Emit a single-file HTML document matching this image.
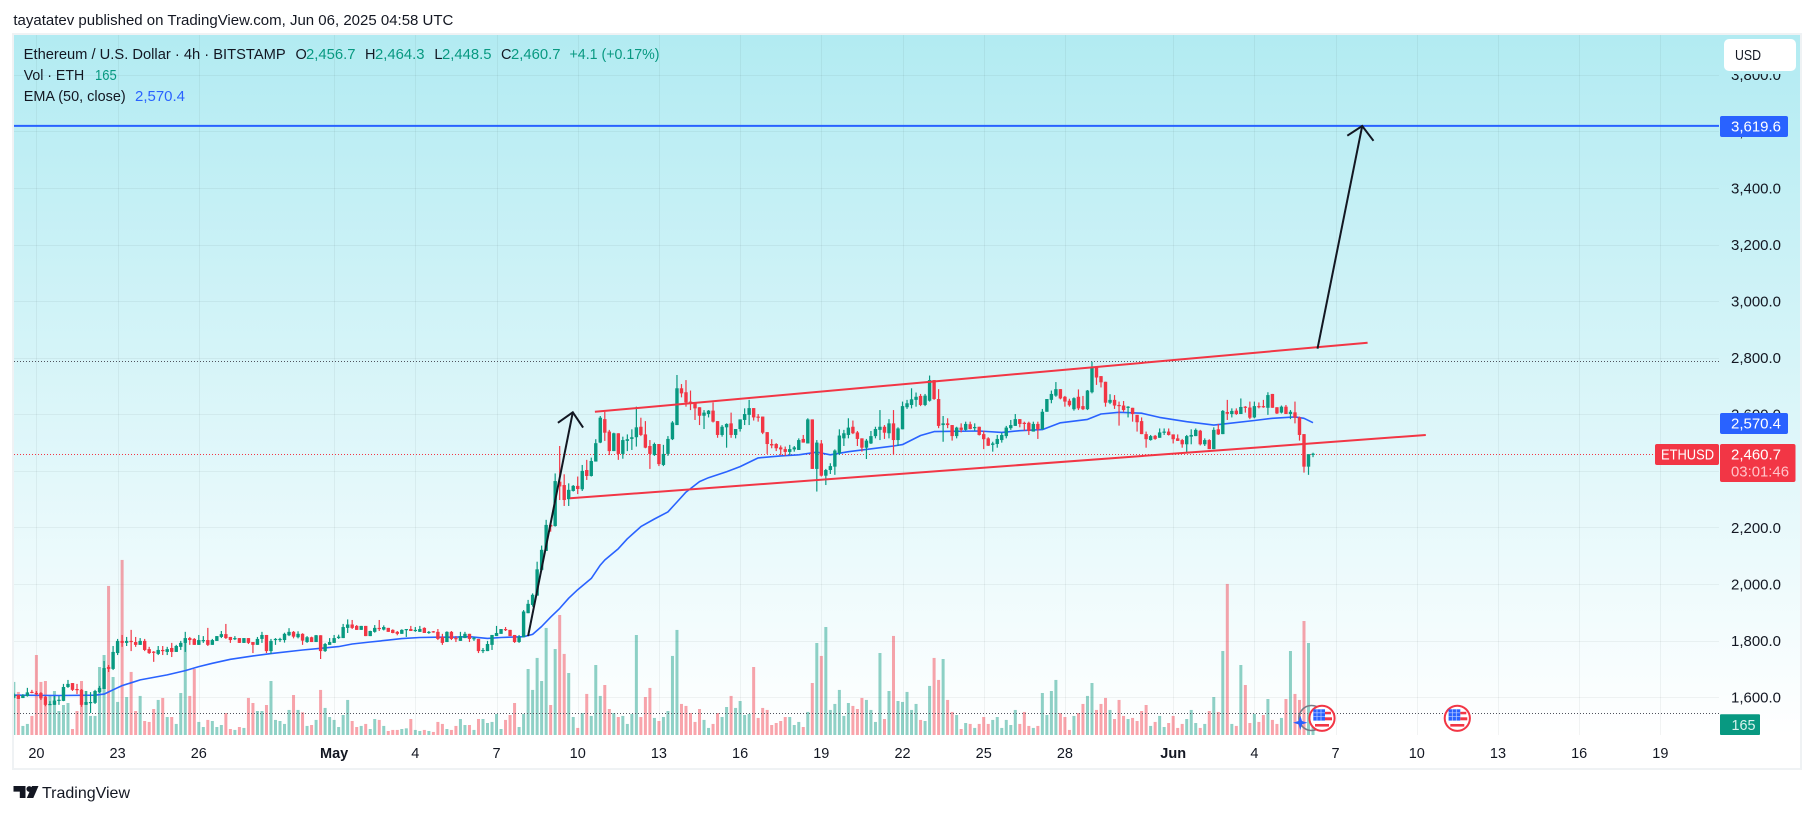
<!DOCTYPE html>
<html lang="en">
<head>
<meta charset="utf-8">
<title>ETHUSD 4h chart</title>
<style>
html,body{margin:0;padding:0;background:#fff;width:1814px;height:814px;overflow:hidden}
svg{display:block;font-family:"Liberation Sans",Arial,sans-serif}
text{fill:#131722}
</style>
</head>
<body>
<svg id="chart" xmlns="http://www.w3.org/2000/svg" width="1814" height="814" viewBox="0 0 1814 814">
  <defs>
    <linearGradient id="bg" x1="0" y1="0" x2="0" y2="1">
      <stop offset="0" stop-color="#b2ebf2"/>
      <stop offset="1" stop-color="#ffffff"/>
    </linearGradient>
    <clipPath id="pane"><rect x="14" y="35" width="1705" height="700"/></clipPath>
  </defs>

  <text x="13.4" y="25" font-size="14.5" textLength="440" lengthAdjust="spacingAndGlyphs">tayatatev published on TradingView.com, Jun 06, 2025 04:58 UTC</text>

  <rect x="13" y="34" width="1788" height="735" fill="#fff" stroke="#eff2f4" stroke-width="2"/>
  <rect x="14" y="35" width="1786" height="700" fill="url(#bg)"/>

  <g id="grid"></g>
  <g id="volumes" clip-path="url(#pane)"></g>
  <g id="levels" clip-path="url(#pane)"></g>
  <g id="ema" clip-path="url(#pane)"></g>
  <g id="candles" clip-path="url(#pane)"></g>
  <g id="drawings" clip-path="url(#pane)"></g>

  <g>
    <circle cx="1311.5" cy="718" r="12.5" fill="none" stroke="#787b86" stroke-width="1.6"/>
    <path d="M1300.3 715.5 L1302 721 L1307.5 722.7 L1302 724.4 L1300.3 730 L1298.6 724.4 L1293 722.7 L1298.6 721 Z" fill="#2962ff"/>
    <g transform="translate(1322 718.3)">
      <circle r="12.6" fill="#fff" stroke="#f23645" stroke-width="2"/>
      <rect x="-8.7" y="-9" width="11.7" height="11.3" fill="#2962ff"/>
      <path d="M-8.7 -5.5H3M-8.7 -2H3M-5 -9V2.3M-1 -9V2.3" stroke="#bcd0ff" stroke-width=".7" fill="none"/>
      <rect x="3" y="-6.5" width="6" height="2.5" fill="#f23645"/>
      <rect x="3" y="-1" width="7" height="3" fill="#f23645"/>
      <rect x="-7" y="5.7" width="14" height="2.6" fill="#f23645"/>
    </g>
    <g transform="translate(1457.3 718.3)">
      <circle r="12.6" fill="#fff" stroke="#f23645" stroke-width="2"/>
      <rect x="-8.7" y="-9" width="11.7" height="11.3" fill="#2962ff"/>
      <path d="M-8.7 -5.5H3M-8.7 -2H3M-5 -9V2.3M-1 -9V2.3" stroke="#bcd0ff" stroke-width=".7" fill="none"/>
      <rect x="3" y="-6.5" width="6" height="2.5" fill="#f23645"/>
      <rect x="3" y="-1" width="7" height="3" fill="#f23645"/>
      <rect x="-7" y="5.7" width="14" height="2.6" fill="#f23645"/>
    </g>
  </g>

  <g id="priceLabels"></g>
  <g id="timeLabels"></g>

  <g font-size="14.5">
    <text x="23.7" y="59" textLength="262" lengthAdjust="spacingAndGlyphs">Ethereum / U.S. Dollar · 4h · BITSTAMP</text>
    <text x="295.5" y="59">O</text>
    <text x="306" y="59" style="fill:#089981" textLength="49.5" lengthAdjust="spacingAndGlyphs">2,456.7</text>
    <text x="365" y="59">H</text>
    <text x="375" y="59" style="fill:#089981" textLength="49.5" lengthAdjust="spacingAndGlyphs">2,464.3</text>
    <text x="434.4" y="59">L</text>
    <text x="442" y="59" style="fill:#089981" textLength="49.5" lengthAdjust="spacingAndGlyphs">2,448.5</text>
    <text x="501" y="59">C</text>
    <text x="511" y="59" style="fill:#089981" textLength="49.5" lengthAdjust="spacingAndGlyphs">2,460.7</text>
    <text x="569.5" y="59" style="fill:#089981" textLength="90" lengthAdjust="spacingAndGlyphs">+4.1 (+0.17%)</text>
    <text x="23.7" y="80" textLength="60.5" lengthAdjust="spacingAndGlyphs">Vol · ETH</text>
    <text x="95" y="80" font-size="15" style="fill:#089981" textLength="21.7" lengthAdjust="spacingAndGlyphs">165</text>
    <text x="23.7" y="101" textLength="102" lengthAdjust="spacingAndGlyphs">EMA (50, close)</text>
    <text x="135" y="101" style="fill:#2962ff" textLength="50" lengthAdjust="spacingAndGlyphs">2,570.4</text>
  </g>

  <g>
    <rect x="1724" y="70" width="72" height="4" fill="#b6ecf3"/>
    <rect x="1724" y="39" width="72" height="32" rx="5" fill="#fff"/>
    <text x="1735" y="60" font-size="15" textLength="26" lengthAdjust="spacingAndGlyphs">USD</text>
  </g>

  <g font-size="15">
    <g>
      <rect x="1720" y="116" width="68" height="21" rx="2" fill="#2962ff"/>
      <text x="1731" y="131.5" style="fill:#fff" textLength="50" lengthAdjust="spacingAndGlyphs">3,619.6</text>
    </g>
    <g>
      <rect x="1720" y="413" width="68" height="21" rx="2" fill="#2962ff"/>
      <text x="1731" y="428.5" style="fill:#fff" textLength="50" lengthAdjust="spacingAndGlyphs">2,570.4</text>
    </g>
    <g>
      <rect x="1655" y="444" width="64" height="21" rx="2" fill="#f23645"/>
      <text x="1661" y="459.5" style="fill:#fff" textLength="53" lengthAdjust="spacingAndGlyphs">ETHUSD</text>
    </g>
    <g>
      <rect x="1720" y="444" width="75.5" height="38" rx="2" fill="#f23645"/>
      <text x="1731" y="459.5" style="fill:#fff" textLength="50" lengthAdjust="spacingAndGlyphs">2,460.7</text>
      <text x="1731" y="476.5" style="fill:#ffc4c9" textLength="58" lengthAdjust="spacingAndGlyphs">03:01:46</text>
    </g>
    <g>
      <rect x="1720" y="714.3" width="40" height="20.7" rx="1" fill="#089981"/>
      <text x="1731.5" y="730" style="fill:#d8f3ee" textLength="24" lengthAdjust="spacingAndGlyphs">165</text>
    </g>
  </g>

  <g>
    <path d="M13.5 786H25.5V798H19.8V791.6H13.5Z" fill="#131722"/>
    <circle cx="29.3" cy="789" r="2.9" fill="#131722"/>
    <path d="M32 786H38.5L33.3 798H26.8Z" fill="#131722"/>
    <text x="42" y="798" font-size="16" textLength="88" lengthAdjust="spacingAndGlyphs">TradingView</text>
  </g>
</svg>

<script>
const opens = [
1598,1608,1597,1604,1619,1615,1615,1601,1573,1573,
1588,1587,1636,1650,1629,1626,1573,1580,1580,1618,
1629,1707,1700,1756,1799,1792,1799,1795,1785,1799,
1770,1761,1753,1767,1760,1774,1760,1778,1792,1809,
1806,1785,1799,1802,1785,1799,1813,1823,1813,1806,
1809,1792,1809,1795,1785,1806,1820,1763,1802,1802,
1802,1819,1831,1812,1824,1795,1812,1795,1819,1763,
1785,1792,1809,1809,1845,1857,1852,1838,1852,1816,
1831,1845,1839,1845,1838,1831,1824,1838,1841,1834,
1831,1845,1827,1833,1831,1813,1795,1831,1809,1799,
1809,1824,1806,1806,1763,1763,1785,1816,1824,1841,
1838,1820,1795,1812,1897,1926,1959,2050,2117,2209,
2205,2362,2350,2300,2329,2347,2335,2403,2382,2433,
2500,2583,2539,2470,2533,2460,2506,2513,2519,2556,
2529,2488,2456,2495,2421,2460,2512,2562,2692,2678,
2645,2639,2625,2595,2601,2613,2576,2527,2554,2568,
2527,2548,2580,2598,2622,2592,2592,2537,2495,2495,
2483,2477,2467,2476,2474,2513,2497,2582,2407,2497,
2383,2403,2415,2462,2515,2527,2556,2536,2515,2482,
2497,2523,2545,2556,2533,2568,2509,2547,2625,2633,
2651,2665,2633,2648,2721,2654,2562,2568,2562,2523,
2553,2545,2565,2552,2556,2530,2515,2492,2495,2509,
2523,2551,2559,2583,2570,2570,2539,2566,2547,2609,
2651,2666,2689,2662,2648,2618,2662,2629,2618,2678,
2766,2735,2715,2641,2651,2633,2631,2623,2623,2598,
2576,2530,2509,2524,2517,2535,2539,2529,2515,2509,
2494,2521,2523,2542,2494,2509,2477,2547,2530,2608,
2601,2613,2601,2627,2624,2589,2629,2629,2623,2672,
2625,2606,2627,2601,2607,2589,2530,2415,2456.7];

const highs = [
1616,1608,1611,1633,1626,1622,1618,1604,1586,1604,
1604,1647,1661,1650,1647,1629,1622,1618,1626,1640,
1728,1714,1781,1806,1820,1813,1838,1813,1809,1806,
1778,1763,1781,1781,1778,1792,1785,1799,1831,1813,
1809,1820,1816,1845,1806,1816,1834,1859,1813,1816,
1809,1809,1809,1795,1813,1831,1820,1806,1809,1810,
1828,1844,1834,1833,1826,1816,1814,1820,1819,1792,
1809,1820,1821,1859,1875,1873,1855,1852,1852,1835,
1855,1873,1854,1845,1840,1834,1840,1841,1852,1848,
1852,1847,1834,1834,1841,1824,1833,1834,1816,1831,
1831,1824,1813,1806,1774,1799,1820,1852,1841,1848,
1838,1820,1820,1908,1944,1967,2079,2136,2227,2221,
2391,2488,2388,2356,2350,2380,2421,2439,2447,2512,
2594,2609,2545,2535,2533,2521,2529,2547,2627,2588,
2576,2509,2500,2495,2492,2523,2576,2739,2707,2721,
2684,2639,2625,2615,2615,2642,2576,2562,2568,2606,
2548,2582,2621,2651,2622,2601,2592,2537,2512,2498,
2490,2486,2492,2488,2515,2527,2586,2582,2509,2509,
2407,2427,2476,2547,2545,2586,2578,2541,2515,2513,
2541,2556,2615,2562,2583,2615,2554,2645,2651,2692,
2677,2672,2672,2737,2721,2689,2594,2586,2562,2556,
2568,2574,2574,2568,2556,2542,2519,2503,2527,2535,
2559,2580,2601,2583,2574,2574,2574,2574,2619,2654,
2684,2714,2689,2665,2655,2660,2688,2665,2686,2786,
2766,2735,2715,2671,2668,2645,2647,2629,2623,2598,
2589,2539,2527,2527,2550,2550,2550,2529,2529,2513,
2527,2547,2550,2545,2515,2512,2554,2566,2615,2651,
2621,2621,2656,2629,2645,2645,2642,2651,2678,2672,
2625,2631,2633,2615,2645,2592,2530,2459,2464.3];

const lows = [
1596,1594,1597,1602,1614,1607,1590,1568,1573,1573,
1573,1586,1633,1622,1611,1566,1573,1544,1576,1615,
1629,1689,1696,1749,1778,1781,1763,1778,1785,1763,
1753,1725,1749,1749,1749,1742,1760,1767,1760,1785,
1785,1785,1792,1781,1785,1799,1809,1806,1792,1802,
1792,1792,1788,1756,1785,1792,1756,1753,1785,1795,
1793,1816,1808,1808,1785,1792,1795,1795,1735,1760,
1785,1792,1806,1809,1827,1841,1838,1838,1816,1816,
1828,1834,1836,1831,1826,1819,1824,1813,1834,1831,
1831,1827,1824,1828,1802,1785,1795,1802,1795,1799,
1809,1795,1799,1756,1756,1763,1767,1816,1824,1834,
1816,1792,1792,1812,1897,1920,1959,2046,2117,2185,
2203,2297,2276,2276,2327,2318,2329,2368,2380,2433,
2498,2506,2456,2470,2439,2443,2470,2474,2486,2523,
2480,2407,2453,2417,2417,2453,2509,2562,2660,2627,
2615,2580,2562,2548,2589,2571,2517,2521,2482,2517,
2515,2539,2562,2562,2578,2574,2530,2460,2480,2470,
2456,2453,2456,2468,2474,2500,2497,2407,2327,2380,
2350,2389,2386,2456,2488,2515,2530,2488,2468,2442,
2495,2515,2509,2513,2515,2456,2488,2547,2619,2621,
2627,2629,2629,2645,2651,2551,2503,2551,2507,2515,
2536,2542,2547,2542,2525,2477,2488,2468,2482,2500,
2515,2545,2559,2554,2542,2527,2539,2513,2547,2609,
2639,2662,2653,2627,2627,2613,2615,2615,2615,2674,
2704,2695,2627,2636,2619,2560,2609,2589,2574,2539,
2530,2482,2507,2510,2517,2527,2525,2497,2506,2482,
2464,2494,2523,2490,2488,2477,2477,2527,2530,2580,
2589,2598,2601,2606,2583,2586,2621,2623,2598,2623,
2601,2603,2601,2583,2568,2507,2394,2386,2448.5];

const closes = [
1610,1594,1607,1617,1616,1611,1596,1573,1576,1588,
1591,1636,1647,1626,1627,1573,1583,1583,1622,1633,
1703,1700,1760,1799,1792,1799,1795,1785,1799,1767,
1756,1759,1767,1763,1770,1760,1781,1792,1809,1802,
1785,1802,1802,1785,1802,1816,1823,1809,1802,1809,
1792,1809,1792,1785,1806,1820,1763,1799,1806,1806,
1824,1831,1814,1824,1800,1812,1795,1819,1763,1788,
1795,1809,1814,1848,1857,1845,1838,1852,1816,1834,
1845,1841,1848,1831,1827,1824,1838,1841,1834,1838,
1841,1827,1831,1831,1806,1792,1831,1806,1806,1816,
1824,1806,1809,1763,1767,1788,1820,1827,1841,1838,
1816,1795,1813,1903,1930,1962,2052,2121,2209,2203,
2364,2345,2297,2333,2347,2336,2400,2382,2435,2498,
2588,2535,2470,2533,2460,2509,2512,2519,2554,2527,
2482,2460,2495,2424,2460,2513,2571,2692,2674,2642,
2639,2621,2595,2606,2613,2574,2527,2556,2566,2527,
2548,2582,2601,2622,2589,2589,2535,2495,2490,2480,
2476,2467,2477,2483,2509,2500,2582,2407,2500,2383,
2403,2417,2472,2525,2533,2553,2533,2513,2482,2507,
2523,2548,2556,2535,2568,2509,2550,2629,2639,2653,
2662,2633,2666,2721,2654,2559,2568,2562,2523,2553,
2545,2566,2548,2555,2527,2512,2489,2497,2513,2527,
2553,2562,2583,2566,2568,2541,2566,2547,2609,2654,
2672,2689,2656,2645,2632,2657,2621,2618,2684,2766,
2730,2713,2641,2651,2631,2629,2615,2627,2601,2572,
2530,2512,2523,2513,2536,2539,2527,2512,2506,2494,
2523,2527,2545,2494,2509,2477,2545,2529,2612,2602,
2612,2601,2626,2623,2588,2629,2627,2627,2668,2623,
2603,2627,2601,2609,2588,2527,2415,2459,2460.7];

const volumes = [
398,323,68,83,143,600,398,405,293,330,
180,225,240,45,180,405,330,143,143,510,
600,1118,435,248,1313,285,473,180,293,105,
98,195,263,278,135,135,83,315,725,293,
495,98,60,113,105,60,75,165,45,38,
60,53,278,240,180,180,225,405,113,105,
83,188,300,188,170,68,75,113,338,203,
135,113,60,150,263,105,60,68,83,45,
120,113,68,30,38,38,45,50,120,38,
30,38,30,23,98,83,45,38,68,120,
75,75,38,120,120,90,98,158,45,113,
150,240,60,158,495,338,578,405,803,225,
645,900,608,465,135,53,165,308,143,525,
293,375,195,165,135,143,83,158,750,135,
285,353,128,105,135,180,593,788,233,218,
165,98,195,113,53,83,165,135,210,293,
203,255,150,158,510,128,203,188,75,90,
105,135,135,75,98,60,173,390,690,593,
810,188,233,338,143,240,218,195,278,263,
188,98,615,120,330,743,255,248,323,188,
233,113,105,368,578,413,570,263,173,150,
45,90,83,53,83,135,83,113,135,53,
113,75,188,83,173,68,53,68,315,150,
330,413,165,135,38,143,165,233,293,390,
188,233,278,188,120,263,143,120,128,105,
180,225,68,98,143,60,90,143,53,83,
120,188,90,53,83,180,285,173,630,1133,
83,68,525,375,90,158,98,150,270,113,
83,128,270,630,308,263,855,690,165];

const emaBars = [0,10,18,20,22,24,26,28,31,34,38,41,44,48,53,57,64,68,72,75,79,83,86,90,94,97,101,105,108,113,115,117,119,121,123,125,128,130,131,134,136,139,142,145,147,149,152,154,158,161,165,170,174,178,181,185,189,195,197,201,204,208,214,219,223,228,232,238,241,245,250,254,260,266,269,275,279,284,286,288];
const emaValues = [1607,1606,1607,1611,1626,1641,1651,1661,1670,1679,1694,1708,1720,1734,1746,1754,1767,1773,1779,1788,1795,1802,1807,1811,1812,1812,1814,1808,1811,1814,1822,1850,1883,1914,1950,1980,2020,2067,2085,2125,2160,2203,2230,2255,2290,2325,2362,2376,2397,2415,2446,2453,2457,2466,2457,2468,2476,2488,2493,2525,2539,2540,2541,2536,2542,2546,2570,2582,2601,2607,2604,2589,2574,2562,2567,2578,2586,2591,2586,2570.4];

const priceTicks = [1600,1800,2000,2200,2400,2600,2800,3000,3200,3400,3600,3800];
const priceTickLabels = ["1,600.0","1,800.0","2,000.0","2,200.0","2,400.0","2,600.0","2,800.0","3,000.0","3,200.0","3,400.0","3,600.0","3,800.0"];
const timeTickBars = [5,23,41,71,89,107,125,143,161,179,197,215,233,257,275,293,311,329,347,365];
const timeTickLabels = ["20","23","26","May","4","7","10","13","16","19","22","25","28","Jun","4","7","10","13","16","19"];
const monthLabels = ["May","Jun"];

const targetPrice = 3619.6;
const lastPrice = 2460.7;
const lastVolume = 165;
const highlightPrice = 2787;

const upperChannelBars = [128.8,300.1];
const upperChannelPrices = [2609,2853];
const lowerChannelBars = [123.3,313];
const lowerChannelPrices = [2303,2527];
const arrowOneBars = [114,123.9];
const arrowOnePrices = [1816,2607];
const arrowOneHeadBars = [120.6,123.9,126.2];
const arrowOneHeadPrices = [2570,2607,2553];
const arrowTwoBars = [289,298.9];
const arrowTwoPrices = [2832,3619];
const arrowTwoHeadBars = [295.6,298.9,301.4];
const arrowTwoHeadPrices = [3585,3619,3567];

const SVGNS = "http://www.w3.org/2000/svg";
const UP = "#089981";
const DOWN = "#f23645";

function xForBar(i){ return 13.85 + 4.511 * i; }
function yForPrice(p){ return 697.2 - (p - 1600) * 0.28289; }
function yForVolume(v){ return 735 - v * 0.13333; }

function make(tag, attrs, parent){
  const el = document.createElementNS(SVGNS, tag);
  for (const k in attrs) el.setAttribute(k, attrs[k]);
  parent.appendChild(el);
  return el;
}

const gridG = document.getElementById("grid");
const priceG = document.getElementById("priceLabels");
const timeG = document.getElementById("timeLabels");
const volG = document.getElementById("volumes");
const candleG = document.getElementById("candles");
const emaG = document.getElementById("ema");
const levelG = document.getElementById("levels");
const drawG = document.getElementById("drawings");

priceTicks.forEach(function(p, k){
  const y = Math.round(yForPrice(p)) + 0.5;
  const line = make("line", {x1:14, x2:1719, y1:y, y2:y, stroke:"#2a2e39", "stroke-opacity":"0.06", "stroke-width":1}, gridG);
  
  
  const label = make("text", {x:1781, y:yForPrice(p)+5.3, "font-size":15, "text-anchor":"end", textLength:50, lengthAdjust:"spacingAndGlyphs"}, priceG);
  
  
  label.textContent = priceTickLabels[k];
});

timeTickBars.forEach(function(b, k){
  const x = Math.round(xForBar(b)) + 0.5;
  const line = make("line", {x1:x, x2:x, y1:35, y2:735, stroke:"#2a2e39", "stroke-opacity":"0.06", "stroke-width":1}, gridG);
  
  
  const isMonth = monthLabels.indexOf(timeTickLabels[k]) >= 0;
  const label = make("text", {x:xForBar(b), y:758, "font-size":14.5, "text-anchor":"middle", "font-weight":isMonth ? "bold" : "normal"}, timeG);
  
  
  label.textContent = timeTickLabels[k];
});

volumes.forEach(function(v, i){
  const c = xForBar(i);
  const top = yForVolume(v);
  const up = closes[i] >= opens[i];
  const bar = make("rect", {x:c-1.5, y:top, width:3, height:735-top, fill:up ? UP : DOWN, opacity:0.45}, volG);
  
  
});

function dotted(y, color, name){
  const line = make("line", {x1:14, x2:1719, y1:y, y2:y, stroke:color, "stroke-width":1, "stroke-dasharray":"1 2"}, levelG);
  
  
}
dotted(Math.round(yForPrice(highlightPrice)) + 0.5, "#50535e", "price-reference-line");
dotted(Math.round(yForVolume(lastVolume)) + 0.5, "#50535e", "volume-reference-line");
dotted(Math.round(yForPrice(lastPrice)) + 0.5, DOWN, "last-price-line");

const targetLine = make("line", {x1:14, x2:1719, y1:yForPrice(targetPrice), y2:yForPrice(targetPrice), stroke:"#2962ff", "stroke-width":2}, levelG);



const emaPts = emaBars.map(function(b, k){ return xForBar(b).toFixed(1) + "," + yForPrice(emaValues[k]).toFixed(1); }).join(" ");
const emaLine = make("polyline", {points:emaPts, fill:"none", stroke:"#2962ff", "stroke-width":1.6, "stroke-linejoin":"round"}, emaG);



opens.forEach(function(o, i){
  const c = xForBar(i);
  const col = closes[i] >= o ? UP : DOWN;
  const wickTop = yForPrice(highs[i]);
  const wickBot = yForPrice(lows[i]);
  const bodyTop = yForPrice(Math.max(o, closes[i]));
  const bodyBot = yForPrice(Math.min(o, closes[i]));
  const wick = make("rect", {x:c-0.6, y:wickTop, width:1.2, height:Math.max(1, wickBot-wickTop), fill:col}, candleG);
  
  
  const body = make("rect", {x:c-1.7, y:bodyTop, width:3.4, height:Math.max(1.2, bodyBot-bodyTop), fill:col}, candleG);
  
  
});

function polyFrom(bars, prices){
  return bars.map(function(b, k){ return xForBar(b).toFixed(1) + "," + yForPrice(prices[k]).toFixed(1); }).join(" ");
}

const upperChannel = make("polyline", {points:polyFrom(upperChannelBars, upperChannelPrices), fill:"none", stroke:DOWN, "stroke-width":2}, drawG);


const lowerChannel = make("polyline", {points:polyFrom(lowerChannelBars, lowerChannelPrices), fill:"none", stroke:DOWN, "stroke-width":2}, drawG);



const arrowOne = make("polyline", {points:polyFrom(arrowOneBars, arrowOnePrices), fill:"none", stroke:"#131722", "stroke-width":2}, drawG);


const arrowOneHead = make("polyline", {points:polyFrom(arrowOneHeadBars, arrowOneHeadPrices), fill:"none", stroke:"#131722", "stroke-width":2}, drawG);


const arrowTwo = make("polyline", {points:polyFrom(arrowTwoBars, arrowTwoPrices), fill:"none", stroke:"#131722", "stroke-width":2}, drawG);


const arrowTwoHead = make("polyline", {points:polyFrom(arrowTwoHeadBars, arrowTwoHeadPrices), fill:"none", stroke:"#131722", "stroke-width":2}, drawG);


</script>
</body>
</html>
